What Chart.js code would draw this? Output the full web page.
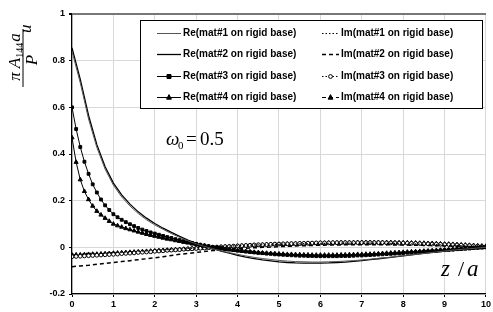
<!DOCTYPE html>
<html>
<head>
<meta charset="utf-8">
<script src="https://cdn.jsdelivr.net/npm/chart.js@4.4.1/dist/chart.umd.min.js"></script>
<style>
  body { margin: 0; background: #fff; }
  canvas { display: block; }
</style>
</head>
<body>
<canvas id="chart" width="493" height="312"></canvas>
<script>
// z / a positions for the plain curves (step 0.2)
const zValues = [0,
  0.2, 0.4, 0.6, 0.8, 1, 1.2, 1.4, 1.6, 1.8, 2,
  2.2, 2.4, 2.6, 2.8, 3, 3.2, 3.4, 3.6, 3.8, 4,
  4.2, 4.4, 4.6, 4.8, 5, 5.2, 5.4, 5.6, 5.8, 6,
  6.2, 6.4, 6.6, 6.8, 7, 7.2, 7.4, 7.6, 7.8, 8,
  8.2, 8.4, 8.6, 8.8, 9, 9.2, 9.4, 9.6, 9.8, 10];

// z / a positions for the curves with markers (step 0.1)
const zFine = [0,
  0.1, 0.2, 0.3, 0.4, 0.5, 0.6, 0.7, 0.8, 0.9, 1,
  1.1, 1.2, 1.3, 1.4, 1.5, 1.6, 1.7, 1.8, 1.9, 2,
  2.1, 2.2, 2.3, 2.4, 2.5, 2.6, 2.7, 2.8, 2.9, 3,
  3.1, 3.2, 3.3, 3.4, 3.5, 3.6, 3.7, 3.8, 3.9, 4,
  4.1, 4.2, 4.3, 4.4, 4.5, 4.6, 4.7, 4.8, 4.9, 5,
  5.1, 5.2, 5.3, 5.4, 5.5, 5.6, 5.7, 5.8, 5.9, 6,
  6.1, 6.2, 6.3, 6.4, 6.5, 6.6, 6.7, 6.8, 6.9, 7,
  7.1, 7.2, 7.3, 7.4, 7.5, 7.6, 7.7, 7.8, 7.9, 8,
  8.1, 8.2, 8.3, 8.4, 8.5, 8.6, 8.7, 8.8, 8.9, 9,
  9.1, 9.2, 9.3, 9.4, 9.5, 9.6, 9.7, 9.8, 9.9, 10];

// real parts
const re1 = [0.84,
  0.705, 0.55, 0.428, 0.335, 0.266, 0.216, 0.177, 0.145, 0.118, 0.096,
  0.077, 0.059, 0.043, 0.028, 0.015, 0.004, -0.006, -0.015, -0.023, -0.030,
  -0.037, -0.043, -0.048, -0.052, -0.056, -0.059, -0.061, -0.062, -0.063, -0.063,
  -0.062, -0.061, -0.059, -0.057, -0.054, -0.051, -0.047, -0.044, -0.040, -0.036,
  -0.032, -0.028, -0.024, -0.020, -0.016, -0.012, -0.009, -0.006, -0.003, 0];
const re2 = [0.855,
  0.72, 0.565, 0.44, 0.345, 0.275, 0.225, 0.185, 0.152, 0.125, 0.102,
  0.082, 0.064, 0.047, 0.031, 0.017, 0.005, -0.006, -0.016, -0.025, -0.034,
  -0.042, -0.048, -0.054, -0.058, -0.062, -0.065, -0.067, -0.068, -0.068, -0.068,
  -0.067, -0.065, -0.063, -0.060, -0.057, -0.053, -0.049, -0.045, -0.041, -0.037,
  -0.032, -0.028, -0.024, -0.020, -0.016, -0.012, -0.009, -0.006, -0.003, 0];
const re3 = [0.60,
  0.507, 0.43, 0.367, 0.315, 0.27, 0.235, 0.205, 0.18, 0.16, 0.142,
  0.129, 0.118, 0.108, 0.099, 0.091, 0.083, 0.076, 0.070, 0.064, 0.059,
  0.054, 0.049, 0.044, 0.040, 0.035, 0.031, 0.027, 0.023, 0.019, 0.015,
  0.011, 0.008, 0.005, 0.002, -0.001, -0.004, -0.007, -0.009, -0.012, -0.014,
  -0.016, -0.018, -0.020, -0.022, -0.024, -0.025, -0.027, -0.028, -0.030, -0.031,
  -0.032, -0.033, -0.034, -0.035, -0.036, -0.036, -0.037, -0.037, -0.038, -0.038,
  -0.038, -0.038, -0.038, -0.038, -0.037, -0.037, -0.037, -0.036, -0.035, -0.035,
  -0.034, -0.033, -0.032, -0.031, -0.030, -0.029, -0.028, -0.027, -0.026, -0.025,
  -0.023, -0.022, -0.021, -0.020, -0.018, -0.017, -0.016, -0.015, -0.013, -0.012,
  -0.011, -0.010, -0.008, -0.007, -0.006, -0.005, -0.003, -0.002, -0.001, 0];
const re4 = [0.47,
  0.365, 0.29, 0.24, 0.205, 0.177, 0.155, 0.139, 0.125, 0.112, 0.100,
  0.093, 0.087, 0.081, 0.076, 0.071, 0.066, 0.061, 0.056, 0.052, 0.048,
  0.044, 0.040, 0.036, 0.033, 0.029, 0.026, 0.022, 0.019, 0.015, 0.012,
  0.009, 0.006, 0.003, 0.000, -0.003, -0.005, -0.008, -0.010, -0.012, -0.014,
  -0.016, -0.018, -0.019, -0.021, -0.022, -0.024, -0.025, -0.026, -0.027, -0.028,
  -0.029, -0.030, -0.030, -0.031, -0.031, -0.032, -0.032, -0.033, -0.033, -0.033,
  -0.033, -0.033, -0.033, -0.033, -0.032, -0.032, -0.031, -0.031, -0.030, -0.030,
  -0.029, -0.029, -0.028, -0.027, -0.026, -0.025, -0.024, -0.023, -0.022, -0.021,
  -0.020, -0.019, -0.018, -0.017, -0.016, -0.015, -0.014, -0.013, -0.012, -0.011,
  -0.010, -0.009, -0.008, -0.007, -0.005, -0.004, -0.003, -0.002, -0.001, 0];

// imaginary parts
const im1 = [-0.028,
  -0.027, -0.026, -0.025, -0.024, -0.022, -0.021, -0.019, -0.017, -0.015, -0.013,
  -0.011, -0.009, -0.007, -0.005, -0.003, -0.001, 0.001, 0.003, 0.005, 0.007,
  0.008, 0.010, 0.011, 0.012, 0.013, 0.014, 0.015, 0.016, 0.016, 0.017,
  0.017, 0.018, 0.018, 0.018, 0.018, 0.018, 0.018, 0.017, 0.017, 0.016,
  0.015, 0.014, 0.013, 0.012, 0.010, 0.009, 0.007, 0.005, 0.004, 0.002];
const im2 = [-0.083,
  -0.080, -0.077, -0.073, -0.069, -0.065, -0.061, -0.057, -0.053, -0.049, -0.045,
  -0.040, -0.035, -0.030, -0.026, -0.022, -0.018, -0.014, -0.011, -0.008, -0.006,
  -0.004, -0.002, 0.000, 0.001, 0.003, 0.004, 0.006, 0.007, 0.008, 0.009,
  0.010, 0.010, 0.011, 0.011, 0.011, 0.011, 0.011, 0.011, 0.010, 0.010,
  0.009, 0.009, 0.008, 0.007, 0.006, 0.005, 0.004, 0.003, 0.002, 0.001];
const im3 = [-0.040,
  -0.039, -0.038, -0.037, -0.036, -0.035, -0.034, -0.033, -0.032, -0.031, -0.030,
  -0.029, -0.027, -0.026, -0.025, -0.024, -0.022, -0.021, -0.020, -0.019, -0.017,
  -0.016, -0.015, -0.013, -0.012, -0.011, -0.010, -0.008, -0.007, -0.006, -0.005,
  -0.004, -0.003, -0.001, 0.000, 0.001, 0.002, 0.003, 0.004, 0.005, 0.006,
  0.007, 0.008, 0.009, 0.010, 0.011, 0.011, 0.012, 0.013, 0.014, 0.014,
  0.015, 0.015, 0.016, 0.016, 0.017, 0.017, 0.018, 0.018, 0.019, 0.019,
  0.019, 0.019, 0.020, 0.020, 0.020, 0.020, 0.020, 0.020, 0.020, 0.020,
  0.020, 0.020, 0.020, 0.020, 0.020, 0.019, 0.019, 0.019, 0.018, 0.018,
  0.018, 0.017, 0.017, 0.016, 0.015, 0.015, 0.014, 0.014, 0.013, 0.012,
  0.012, 0.011, 0.010, 0.009, 0.008, 0.007, 0.006, 0.005, 0.004, 0.003];
const im4 = [-0.033,
  -0.032, -0.032, -0.031, -0.030, -0.029, -0.029, -0.028, -0.027, -0.026, -0.025,
  -0.024, -0.023, -0.022, -0.021, -0.020, -0.019, -0.018, -0.017, -0.016, -0.015,
  -0.014, -0.013, -0.012, -0.011, -0.010, -0.009, -0.008, -0.007, -0.006, -0.005,
  -0.004, -0.003, -0.002, -0.001, 0.000, 0.001, 0.002, 0.003, 0.004, 0.005,
  0.006, 0.007, 0.008, 0.009, 0.009, 0.010, 0.011, 0.012, 0.012, 0.013,
  0.013, 0.014, 0.014, 0.015, 0.015, 0.016, 0.016, 0.017, 0.017, 0.018,
  0.018, 0.019, 0.019, 0.019, 0.020, 0.020, 0.020, 0.020, 0.021, 0.021,
  0.021, 0.021, 0.021, 0.021, 0.021, 0.021, 0.021, 0.020, 0.020, 0.020,
  0.020, 0.019, 0.019, 0.018, 0.018, 0.017, 0.017, 0.016, 0.015, 0.014,
  0.014, 0.013, 0.012, 0.011, 0.010, 0.009, 0.008, 0.007, 0.006, 0.005];

const seriesLabels = [
  'Re(mat#1 on rigid base)', 'Re(mat#2 on rigid base)',
  'Re(mat#3 on rigid base)', 'Re(mat#4 on rigid base)',
  'Im(mat#1 on rigid base)', 'Im(mat#2 on rigid base)',
  'Im(mat#3 on rigid base)', 'Im(mat#4 on rigid base)'
];
const xTickLabels = ['0', '1', '2', '3', '4', '5', '6', '7', '8', '9', '10'];
const yTickLabels = ['-0.2', '0', '0.2', '0.4', '0.6', '0.8', '1'];

const pts = (zs, arr) => zs.map((z, i) => ({ x: z, y: arr[i] }));

function series(label, zs, arr, style) {
  return Object.assign({
    label: label,
    data: pts(zs, arr),
    borderColor: '#000',
    backgroundColor: '#000',
    borderWidth: 1,
    pointRadius: 0,
    pointBorderWidth: 1,
    pointBorderColor: '#000',
    pointBackgroundColor: '#000',
    tension: 0,
    fill: false
  }, style);
}

const datasets = [
  series(seriesLabels[0], zValues, re1, { borderColor: '#555', borderWidth: 1 }),
  series(seriesLabels[1], zValues, re2, { borderWidth: 1.3 }),
  series(seriesLabels[2], zFine, re3, { pointStyle: 'rect', pointRadius: 2 }),
  series(seriesLabels[3], zFine, re4, { pointStyle: 'triangle', pointRadius: 2.4 }),
  series(seriesLabels[4], zValues, im1, { borderDash: [1.5, 2], borderWidth: 1.2 }),
  series(seriesLabels[5], zValues, im2, { borderDash: [4, 3], borderWidth: 1.5 }),
  series(seriesLabels[6], zFine, im3, { borderDash: [1.5, 2], pointStyle: 'circle', pointRadius: 1.9, pointBackgroundColor: '#fff' }),
  series(seriesLabels[7], zFine, im4, { borderDash: [4, 3], borderWidth: 1.2, pointStyle: 'triangle', pointRadius: 2.4 })
];

function drawMarker(ctx, ds, x, y) {
  if (!ds.pointRadius) return;
  const r = ds.pointRadius;
  ctx.save();
  ctx.setLineDash([]);
  ctx.lineWidth = 1;
  ctx.strokeStyle = '#000';
  ctx.fillStyle = ds.pointBackgroundColor;
  ctx.beginPath();
  if (ds.pointStyle === 'rect') {
    ctx.rect(x - r, y - r, 2 * r, 2 * r);
  } else if (ds.pointStyle === 'triangle') {
    ctx.moveTo(x, y - r * 1.2);
    ctx.lineTo(x + r, y + r * 0.7);
    ctx.lineTo(x - r, y + r * 0.7);
    ctx.closePath();
  } else {
    ctx.arc(x, y, r, 0, Math.PI * 2);
  }
  ctx.fill();
  ctx.stroke();
  ctx.restore();
}

const annotations = {
  id: 'annotations',
  afterDraw(chart) {
    const ctx = chart.ctx;
    ctx.save();

    // legend box
    ctx.fillStyle = '#fff';
    ctx.fillRect(140, 20, 342, 88);
    ctx.strokeStyle = '#000';
    ctx.lineWidth = 1;
    ctx.strokeRect(140.5, 20.5, 342, 88);

    const rows = [33, 54, 76, 97];
    ctx.font = 'bold 10px "Liberation Sans", Arial, sans-serif';
    ctx.textBaseline = 'middle';
    ctx.textAlign = 'left';
    datasets.forEach((ds, i) => {
      const col = i < 4 ? 0 : 1;
      const y = rows[i % 4] + 0.5;
      const x0 = col === 0 ? 157 : 322;
      const x1 = col === 0 ? 181 : 339;
      ctx.save();
      ctx.strokeStyle = ds.borderColor;
      ctx.lineWidth = ds.borderWidth;
      ctx.setLineDash(ds.borderDash || []);
      ctx.beginPath();
      ctx.moveTo(x0, y);
      ctx.lineTo(x1, y);
      ctx.stroke();
      ctx.restore();
      drawMarker(ctx, ds, (x0 + x1) / 2, y);
      ctx.fillStyle = '#000';
      ctx.fillText(ds.label, x1 + 2, y);
    });

    // y axis title: (pi A_144 a / P) u, rotated
    ctx.save();
    ctx.translate(23, 57);
    ctx.rotate(-Math.PI / 2);
    ctx.fillStyle = '#000';
    ctx.strokeStyle = '#000';
    ctx.textBaseline = 'alphabetic';
    const big = 'italic 17px "Liberation Serif", "DejaVu Serif", serif';
    const small = '10px "Liberation Serif", "DejaVu Serif", serif';
    ctx.font = big;
    const wPi = ctx.measureText('\u03c0').width;
    const wA = ctx.measureText('A').width;
    const wa = ctx.measureText('a').width;
    ctx.font = small;
    const w144 = ctx.measureText('144').width;
    const total = wPi + 4 + wA + w144 + 1 + wa;
    let u = -total / 2;
    ctx.font = big;
    ctx.fillText('\u03c0', u, -3); u += wPi + 4;
    ctx.fillText('A', u, -3); u += wA;
    ctx.font = small;
    ctx.fillText('144', u, 0); u += w144 + 1;
    ctx.font = big;
    ctx.fillText('a', u, -3);
    ctx.lineWidth = 1;
    ctx.beginPath();
    ctx.moveTo(-30, 0);
    ctx.lineTo(28, 0);
    ctx.stroke();
    ctx.textAlign = 'center';
    ctx.fillText('P', -3, 14);
    ctx.textAlign = 'left';
    ctx.fillText('u', 24, 8);
    ctx.restore();

    // omega_0 = 0.5
    ctx.fillStyle = '#000';
    ctx.textBaseline = 'alphabetic';
    ctx.font = 'italic 19px "Liberation Serif", "DejaVu Serif", serif';
    ctx.fillText('\u03c9', 166, 145);
    ctx.font = '11px "Liberation Serif", "DejaVu Serif", serif';
    ctx.fillText('0', 178, 149);
    ctx.font = '19px "Liberation Serif", "DejaVu Serif", serif';
    ctx.fillText('=', 186, 145);
    ctx.fillText('0.5', 200, 145);

    // z / a
    ctx.font = 'italic 23px "Liberation Serif", "DejaVu Serif", serif';
    ctx.fillText('z', 441, 276);
    ctx.font = '22px "Liberation Serif", "DejaVu Serif", serif';
    ctx.fillText('/', 458, 276);
    ctx.font = 'italic 23px "Liberation Serif", "DejaVu Serif", serif';
    ctx.fillText('a', 467, 276);

    ctx.restore();
  }
};

const tickFont = { family: '"Liberation Sans", Arial, sans-serif', size: 9, weight: 'bold' };

new Chart(document.getElementById('chart').getContext('2d'), {
  type: 'line',
  data: { datasets: datasets },
  options: {
    responsive: false,
    animation: false,
    layout: { padding: { top: 14, right: 3, left: 0, bottom: 0 } },
    plugins: { legend: { display: false }, tooltip: { enabled: false } },
    scales: {
      x: {
        type: 'linear',
        min: 0,
        max: 10,
        afterFit: s => { s.height = 18; },
        ticks: {
          stepSize: 1,
          color: '#000',
          font: tickFont,
          padding: 2,
          maxRotation: 0,
          callback: (v, i) => xTickLabels[i]
        },
        grid: { color: '#d8d8d8', tickColor: '#000', tickLength: 3 },
        border: { color: '#000', width: 1.2 }
      },
      y: {
        min: -0.2,
        max: 1,
        afterFit: s => { s.width = 72; },
        ticks: {
          stepSize: 0.2,
          color: '#000',
          font: tickFont,
          padding: 4,
          callback: (v, i) => yTickLabels[i]
        },
        grid: {
          color: ctx => (ctx.tick && ctx.tick.value > 0.99 ? '#777' : '#d8d8d8'),
          lineWidth: ctx => (ctx.tick && ctx.tick.value > 0.99 ? 2 : 1),
          tickColor: '#000',
          tickLength: 3
        },
        border: { color: '#000', width: 1.2 }
      }
    }
  },
  plugins: [annotations]
});
</script>
</body>
</html>
